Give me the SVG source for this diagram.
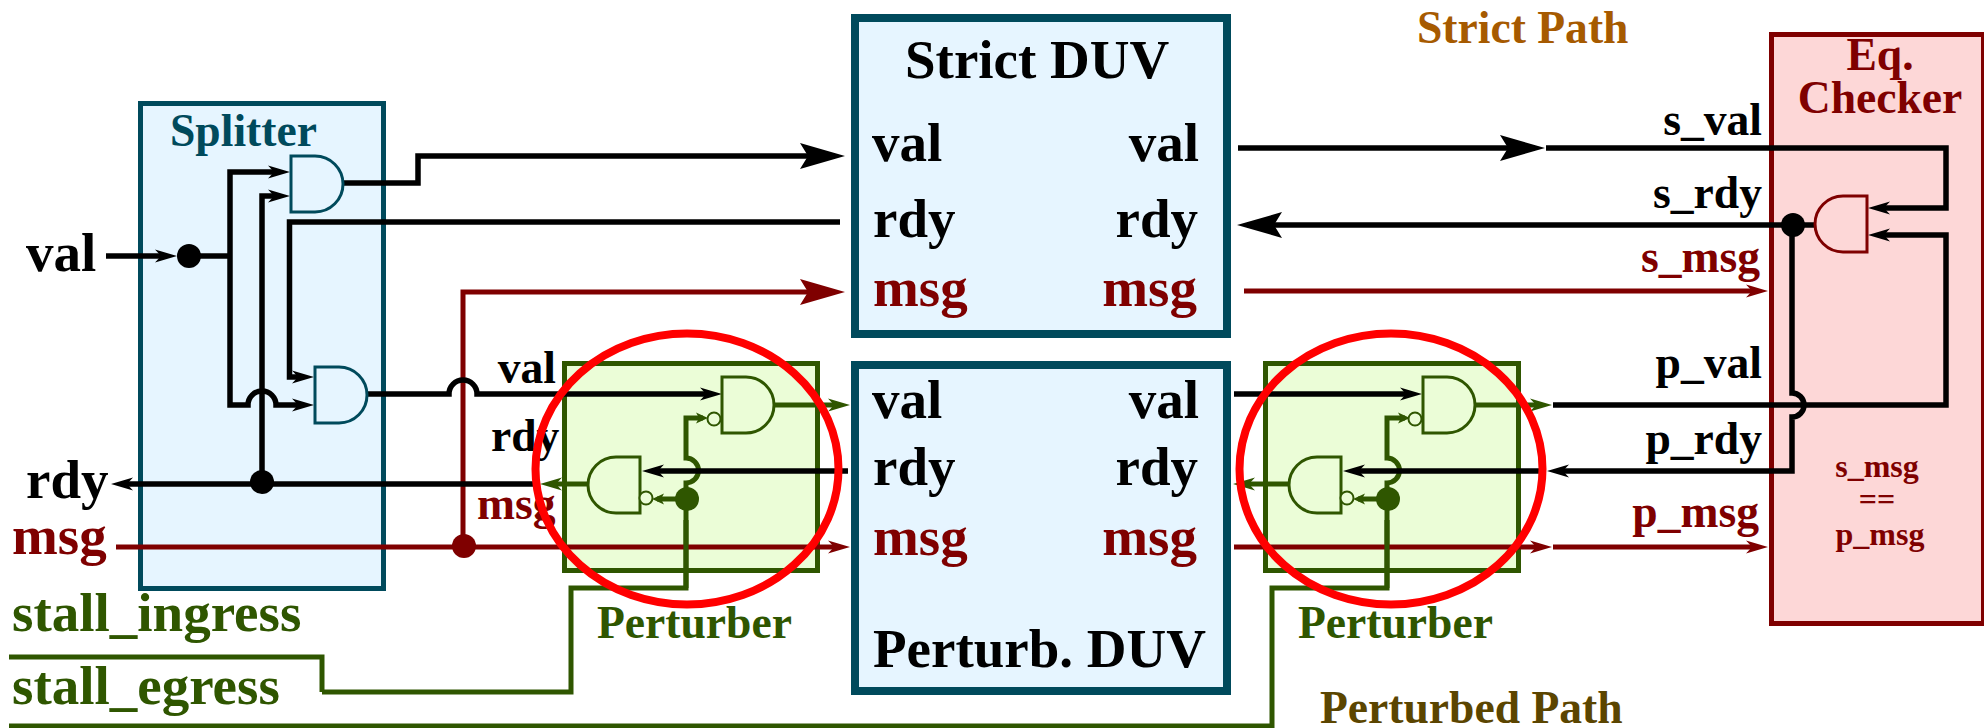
<svg xmlns="http://www.w3.org/2000/svg" width="1984" height="728" viewBox="0 0 1984 728">
<defs>
<marker id="sk" markerUnits="userSpaceOnUse" overflow="visible" refX="-10" refY="0" orient="auto"><path d="M-22,-6.500L0,0L-22,6.500L-16,0Z" fill="#000"/></marker>
<marker id="sg" markerUnits="userSpaceOnUse" overflow="visible" refX="-10" refY="0" orient="auto"><path d="M-22,-6.500L0,0L-22,6.500L-16,0Z" fill="#2f5600"/></marker>
<marker id="sr" markerUnits="userSpaceOnUse" overflow="visible" refX="-10" refY="0" orient="auto"><path d="M-22,-6.500L0,0L-22,6.500L-16,0Z" fill="#7f0000"/></marker>
<marker id="bk" markerUnits="userSpaceOnUse" overflow="visible" refX="-10" refY="0" orient="auto"><path d="M-45,-13L0,0L-45,13L-37,0Z" fill="#000"/></marker>
<marker id="br" markerUnits="userSpaceOnUse" overflow="visible" refX="-10" refY="0" orient="auto"><path d="M-45,-13L0,0L-45,13L-37,0Z" fill="#7f0000"/></marker>
<marker id="tg" markerUnits="userSpaceOnUse" overflow="visible" refX="-5" refY="0" orient="auto"><path d="M-12,-5.500L0,0L-12,5.500L-9,0Z" fill="#2f5600"/></marker>
</defs>
<style>
text{font-family:"Liberation Serif","Times New Roman",serif;font-weight:bold}
.w{fill:none;stroke-width:5;stroke-linejoin:miter}
.k{stroke:#000;stroke-width:5.500}.g{stroke:#2f5600}.r{stroke:#7f0000}
.t55{font-size:55px}.t45{font-size:45.6px}.t32{font-size:32px}
.fk{fill:#000}.fr{fill:#7f0000}.fg{fill:#2f5600}.ft{fill:#004a5c}
.e{text-anchor:end}.m{text-anchor:middle}
.blue{fill:#e6f5ff;stroke:#004a5c}
.gs{stroke-width:3}
.pb{fill:#ebfdd7;stroke:#2f5600;stroke-width:5}
.bub{fill:#ebfdd7;stroke:#2f5600;stroke-width:2}
.ring{fill:none;stroke:#f00;stroke-width:8}
</style>

<g id="splitter">
<rect class="blue" x="140.500" y="103.500" width="243" height="485" stroke-width="5"/>
<text class="t45 ft" x="170" y="146">Splitter</text>
</g>
<g id="strict-duv">
<rect class="blue" x="855" y="18" width="372" height="316" stroke-width="8"/>
<text class="t55 fk" x="905" y="78">Strict DUV</text>
<text class="t55 fk" x="872" y="161">val</text><text class="t55 fk e" x="1199" y="161">val</text>
<text class="t55 fk" x="873" y="237">rdy</text><text class="t55 fk e" x="1198" y="237">rdy</text>
<text class="t55 fr" x="873" y="306">msg</text><text class="t55 fr e" x="1197" y="306">msg</text>
</g>
<g id="perturb-duv">
<rect class="blue" x="855" y="365" width="372" height="326" stroke-width="8"/>
<text class="t55 fk" x="872" y="418">val</text><text class="t55 fk e" x="1199" y="418">val</text>
<text class="t55 fk" x="873" y="485">rdy</text><text class="t55 fk e" x="1198" y="485">rdy</text>
<text class="t55 fr" x="873" y="555">msg</text><text class="t55 fr e" x="1197" y="555">msg</text>
<text class="t55 fk" x="873" y="667">Perturb. DUV</text>
</g>
<g id="eq-checker">
<rect x="1771.500" y="34.500" width="212" height="589" fill="#fdd7d7" stroke="#7f0000" stroke-width="5"/>
<text class="t45 fr m" x="1880" y="70">Eq.</text>
<text class="t45 fr m" x="1880" y="113">Checker</text>
<text class="t32 fr m" x="1877" y="477">s_msg</text>
<text class="t32 fr m" x="1877" y="510">==</text>
<text class="t32 fr m" x="1880" y="545">p_msg</text>
</g>
<g id="perturber-1">
<rect class="pb" x="564.500" y="363.500" width="253" height="207"/>
<text class="t45 fg" x="597" y="638">Perturber</text>
</g>
<g id="perturber-2">
<rect class="pb" x="1265.500" y="363.500" width="253" height="207"/>
<text class="t45 fg" x="1298" y="638">Perturber</text>
</g>

<g id="connectors">
<path class="w g" d="M322,692H571V588H686V483A12.500,12.500 0 0 0 686,458V418H703" marker-end="url(#tg)"/>
<path class="w g" d="M9,726H1272V588H1387V483A12.500,12.500 0 0 0 1387,458V418H1405" marker-end="url(#tg)"/>
<path class="w k" d="M106,256H167" marker-end="url(#sk)"/>
<path class="w k" d="M189,256H230"/>
<path class="w k" d="M230,256V172H280" marker-end="url(#sk)"/>
<path class="w k" d="M230,256V405H248A14,14 0 0 1 276,405H304" marker-end="url(#sk)"/>
<path class="w k" d="M262,482V196H280" marker-end="url(#sk)"/>
<path class="w k" d="M840,222H289.500V377H304" marker-end="url(#sk)"/>
<path class="w k" d="M342,183H418V156H835" marker-end="url(#bk)"/>
<path class="w r" d="M463,546V292H835" marker-end="url(#br)"/>
<path class="w k" d="M366,394H449A14,14 0 0 1 477,394H712" marker-end="url(#sk)"/>
<path class="w k" d="M535,484H121" marker-end="url(#sk)"/>
<path class="w k" d="M848,471H652" marker-end="url(#sk)"/>
<path class="w g" d="M773,405H840" marker-end="url(#sg)"/>
<path class="w g" d="M588,484H550" marker-end="url(#sg)"/>
<path class="w g" d="M686,499H657" marker-end="url(#tg)"/>
<path class="w g" d="M9,657H322V692"/>
<path class="w k" d="M1234,394H1412" marker-end="url(#sk)"/>
<path class="w g" d="M1474,405H1542" marker-end="url(#sg)"/>
<path class="w k" d="M1540,471H1353" marker-end="url(#sk)"/>
<path class="w g" d="M1289,484H1243" marker-end="url(#sg)"/>
<path class="w g" d="M1387,499H1358" marker-end="url(#tg)"/>
<path class="w k" d="M1238,148H1535" marker-end="url(#bk)"/>
<path class="w k" d="M1546,148H1946V208H1878" marker-end="url(#sk)"/>
<path class="w k" d="M1815,225H1247" marker-end="url(#bk)"/>
<path class="w r" d="M1244,291H1758" marker-end="url(#sr)"/>
<path class="w k" d="M1553,405H1946V235H1878" marker-end="url(#sk)"/>
<path class="w k" d="M1792,225V393A12,12 0 0 1 1792,417V471H1557" marker-end="url(#sk)"/>
<path class="w r" d="M1553,547H1758" marker-end="url(#sr)"/>
<path class="w r" d="M116,547H840" marker-end="url(#sr)"/>
<path class="w r" d="M1234,547H1542" marker-end="url(#sr)"/>
<path class="w g" d="M686,588V520"/>
<path class="w g" d="M1387,588V520"/>
<circle cx="189" cy="256" r="12" fill="#000"/>
<circle cx="262" cy="482" r="12" fill="#000"/>
<circle cx="464" cy="546" r="12" fill="#7f0000"/>
<circle cx="687" cy="499" r="12" fill="#2f5600"/>
<circle cx="1388" cy="499" r="12" fill="#2f5600"/>
<circle cx="1793" cy="225" r="12" fill="#000"/>
</g>

<g id="gates">
<path class="gs" stroke="#004a5c" fill="#e6f5ff" d="M291,156H315A28,28 0 0 1 315,212H291Z"/>
<path class="gs" stroke="#004a5c" fill="#e6f5ff" d="M315,367H339A28,28 0 0 1 339,423H315Z"/>
<path class="gs" stroke="#2f5600" fill="#ebfdd7" d="M722,377H746A28,28 0 0 1 746,433H722Z"/>
<path class="gs" stroke="#2f5600" fill="#ebfdd7" d="M640,457H616A28,28 0 0 0 616,513H640Z"/>
<circle class="bub" cx="714" cy="419" r="6.500"/>
<circle class="bub" cx="646" cy="498" r="6.500"/>
<path class="gs" stroke="#2f5600" fill="#ebfdd7" d="M1423,377H1447A28,28 0 0 1 1447,433H1423Z"/>
<path class="gs" stroke="#2f5600" fill="#ebfdd7" d="M1341,457H1317A28,28 0 0 0 1317,513H1341Z"/>
<circle class="bub" cx="1415" cy="419" r="6.500"/>
<circle class="bub" cx="1347" cy="498" r="6.500"/>
<path class="gs" stroke="#7f0000" fill="#fdd7d7" d="M1867,196H1843A28,28 0 0 0 1843,252H1867Z"/>
</g>

<g id="labels">
<text class="t55 fk" x="26" y="271">val</text>
<text class="t55 fk" x="26" y="498">rdy</text>
<text class="t55 fr" x="12" y="554">msg</text>
<text class="t55 fg" x="12" y="631">stall_ingress</text>
<text class="t55 fg" x="12" y="704">stall_egress</text>
<text class="t45 fk e" x="556" y="383">val</text>
<text class="t45 fk" x="491" y="451">rdy</text>
<text class="t45 fr" x="477" y="519">msg</text>
<text class="t45 fk e" x="1762" y="135">s_val</text>
<text class="t45 fk e" x="1762" y="208">s_rdy</text>
<text class="t45 fr e" x="1760" y="272">s_msg</text>
<text class="t45 fk e" x="1762" y="378">p_val</text>
<text class="t45 fk e" x="1762" y="454">p_rdy</text>
<text class="t45 fr e" x="1759" y="527">p_msg</text>
<text class="t45" fill="#a65a00" x="1417" y="43">Strict Path</text>
<text class="t45" fill="#5b4500" x="1320" y="723">Perturbed Path</text>
</g>

<g id="highlights">
<ellipse class="ring" cx="687" cy="469" rx="151.500" ry="135.500"/>
<ellipse class="ring" cx="1391" cy="469" rx="151.500" ry="135.500"/>
</g>
</svg>
